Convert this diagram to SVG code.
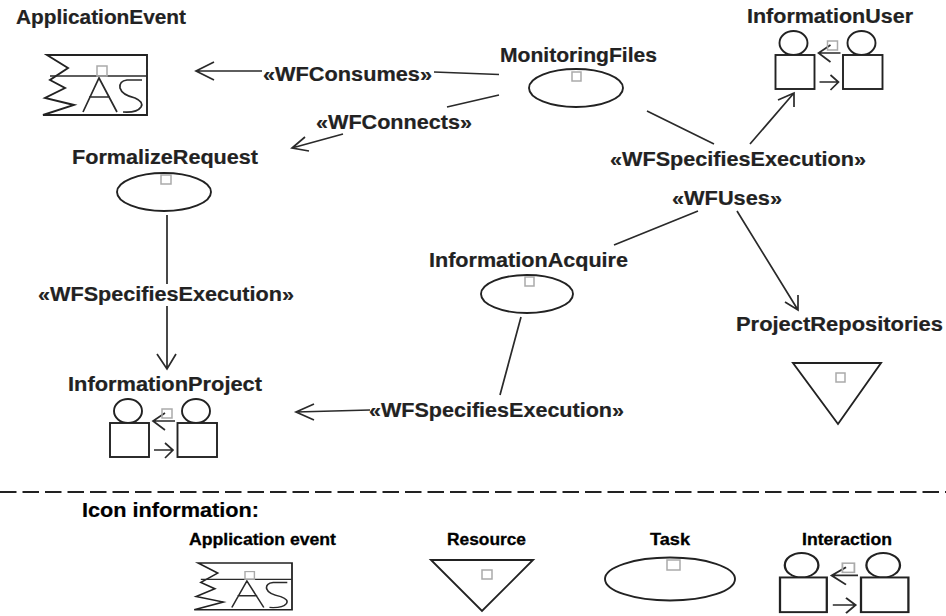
<svg xmlns="http://www.w3.org/2000/svg" xmlns:xlink="http://www.w3.org/1999/xlink" width="946" height="616" viewBox="0 0 946 616">
<style>
text{font-family:"Liberation Sans",Arial,sans-serif;fill:#222;font-weight:bold;font-size:20px;stroke:#222;stroke-width:.2}
.s{font-size:16.5px;fill:#000;stroke:#000;stroke-width:.3}
.k{fill:#000;stroke:#000}
.l{fill:none;stroke:#2a2a2a;stroke-width:1.7}
.i{fill:#fff;stroke:#222;stroke-width:1.9}
.h{fill:none;stroke:#aaa;stroke-width:1.5}
</style>
<defs>
<g id="actors">
<ellipse cx="18" cy="11" rx="14" ry="12" class="i"/>
<ellipse cx="86" cy="11" rx="14" ry="12" class="i"/>
<rect x="0" y="23" width="39" height="34" class="i"/>
<rect x="67.500" y="23" width="39.500" height="34" class="i"/>
<path class="l" d="M65 21H43M55 13L43 21L55 30M44 50H63M55 43L63 50L55 58"/>
<rect x="52" y="9" width="10" height="9" class="h"/>
</g>
<g id="event">
<path class="i" d="M0 0H100V60H-4L27 50L-2 43L18 33L3 25L21 13Z"/>
<path class="l" d="M3 21H100M36 57L52 23L70 57M42 42H63M95 25H80Q72 26 73 33Q75 40 88 43Q97 47 94 52Q90 58 76 57"/>
<rect x="50" y="11" width="10" height="10" class="h"/>
</g>
</defs>
<g id="connectors">
<path class="l" d="M499 74.500L434 72M262 71H196M214 62L196 71L214 80"/>
<path class="l" d="M499 95L447 107M343 134L292 148M305 137L292 148L309 151"/>
<path class="l" d="M167 215V284M167 306V369M157 354L167 369L176 354"/>
<path class="l" d="M521 317L500 395M370 410L296 412M314 404L296 412L314 420"/>
<path class="l" d="M647 111L714 144M750 144L794 93M778 100L794 93L794 107"/>
<path class="l" d="M698 211L614 245M737 211L798 310M785 302L798 310L798 295"/>
</g>
<g id="node-application-event">
<text x="16" y="24" textLength="170" lengthAdjust="spacingAndGlyphs">ApplicationEvent</text>
<use xlink:href="#event" transform="translate(47,55)"/>
</g>
<g id="node-formalize-request">
<text x="72" y="164" textLength="186" lengthAdjust="spacingAndGlyphs">FormalizeRequest</text>
<ellipse cx="164" cy="192" rx="47" ry="19" class="i"/>
<rect x="161" y="175" width="10" height="9" class="h"/>
</g>
<g id="node-monitoring-files">
<text x="500" y="62" textLength="157" lengthAdjust="spacingAndGlyphs">MonitoringFiles</text>
<ellipse cx="576" cy="88" rx="47" ry="19" class="i"/>
<rect x="572" y="72" width="9" height="9" class="h"/>
</g>
<g id="node-information-user">
<text x="747" y="23" textLength="166" lengthAdjust="spacingAndGlyphs">InformationUser</text>
<use xlink:href="#actors" transform="translate(775.500,32)"/>
</g>
<g id="node-information-acquire">
<text x="429" y="267" textLength="199" lengthAdjust="spacingAndGlyphs">InformationAcquire</text>
<ellipse cx="527" cy="294" rx="46" ry="19" class="i"/>
<rect x="525" y="277" width="9" height="9" class="h"/>
</g>
<g id="node-project-repositories">
<text x="736" y="331" textLength="207" lengthAdjust="spacingAndGlyphs">ProjectRepositories</text>
<path class="i" d="M793 363H881L838 424Z"/>
<rect x="836" y="373" width="9" height="9" class="h"/>
</g>
<g id="node-information-project">
<text x="68" y="391" textLength="194" lengthAdjust="spacingAndGlyphs">InformationProject</text>
<use xlink:href="#actors" transform="translate(110,400)"/>
</g>
<g id="labels">
<text x="263" y="81" textLength="169" lengthAdjust="spacingAndGlyphs">«WFConsumes»</text>
<text x="316" y="129" textLength="156" lengthAdjust="spacingAndGlyphs">«WFConnects»</text>
<text x="610" y="166" textLength="256" lengthAdjust="spacingAndGlyphs">«WFSpecifiesExecution»</text>
<text x="672" y="205" textLength="110" lengthAdjust="spacingAndGlyphs">«WFUses»</text>
<text x="38" y="301" textLength="256" lengthAdjust="spacingAndGlyphs">«WFSpecifiesExecution»</text>
<text x="369" y="417" textLength="255" lengthAdjust="spacingAndGlyphs">«WFSpecifiesExecution»</text>
</g>
<path id="divider" d="M0 492H946" fill="none" stroke="#222" stroke-width="2.2" stroke-dasharray="16.500 6"/>
<g id="legend">
<text class="k" x="82" y="517" textLength="177" lengthAdjust="spacingAndGlyphs">Icon information:</text>
<text class="s" x="189" y="545" textLength="147" lengthAdjust="spacingAndGlyphs">Application event</text>
<text class="s" x="447" y="545" textLength="79" lengthAdjust="spacingAndGlyphs">Resource</text>
<text class="s" x="650" y="545" textLength="40" lengthAdjust="spacingAndGlyphs">Task</text>
<text class="s" x="802" y="545" textLength="90" lengthAdjust="spacingAndGlyphs">Interaction</text>
<g id="legend-event"><use xlink:href="#event" transform="translate(198,563) scale(.94,.78)"/></g>
<g id="legend-resource">
<path class="i" d="M431 560H533L482 611Z"/>
<rect x="482" y="570" width="10" height="9" class="h"/>
</g>
<g id="legend-task">
<ellipse cx="670" cy="579" rx="65" ry="21.500" class="i"/>
<rect x="667" y="560" width="13" height="10" class="h"/>
</g>
<g id="legend-interaction"><use xlink:href="#actors" transform="translate(780,554) scale(1.2,1.02)"/></g>
</g>
</svg>
